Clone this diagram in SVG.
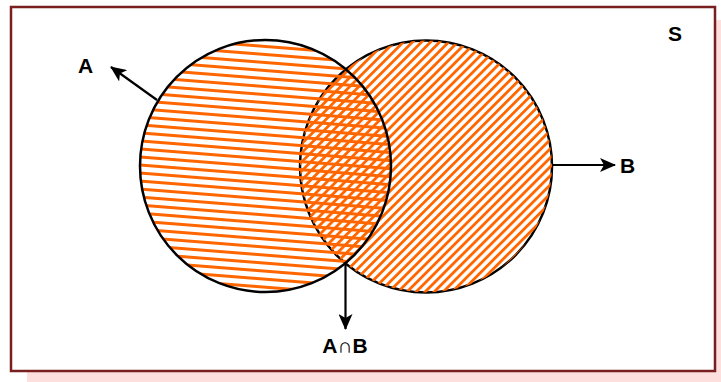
<svg xmlns="http://www.w3.org/2000/svg" width="721" height="382" viewBox="0 0 721 382">
<style>
.lbl{font-family:"Liberation Sans",Arial,sans-serif;font-weight:bold;font-size:21px;fill:#000}
.circ{stroke:#000;stroke-width:2.5}
.conn{stroke:#000;stroke-width:2.2;fill:none}
</style>
<defs>
<pattern id="hatchA" patternUnits="userSpaceOnUse" width="20" height="8" patternTransform="rotate(4.5)">
<rect x="0" y="0" width="20" height="3" fill="#ff6600"/>
</pattern>
<pattern id="hatchB" patternUnits="userSpaceOnUse" width="20" height="6.4" patternTransform="rotate(-45)">
<rect x="0" y="0" width="20" height="2.8" fill="#ff6600"/>
</pattern>
<marker id="arr" viewBox="0 0 16 14" refX="15" refY="7" markerWidth="16" markerHeight="14" markerUnits="userSpaceOnUse" orient="auto">
<path d="M0,0 L16,7 L0,14 L4,7 Z" fill="#000"/>
</marker>
</defs>
<rect x="27" y="20" width="700" height="370" fill="#fde0de"/>
<rect x="11" y="7" width="704" height="364" fill="#fff" stroke="#7a1f1f" stroke-width="2.5"/>
<g id="nodeB">
<circle cx="426" cy="166.5" r="126" fill="#fff" class="circ"/>
<circle cx="426" cy="166.5" r="126" fill="url(#hatchB)"/>
</g>
<g id="nodeA">
<ellipse cx="265.5" cy="166" rx="125.5" ry="126" fill="url(#hatchA)"/>
<ellipse cx="265.5" cy="166" rx="125.5" ry="126" fill="none" class="circ"/>
</g>
<g id="connectors">
<line x1="157" y1="100" x2="111" y2="67" class="conn" marker-end="url(#arr)"/>
<line x1="552" y1="165" x2="615" y2="165" class="conn" marker-end="url(#arr)"/>
<line x1="345.5" y1="262" x2="345.5" y2="329" class="conn" marker-end="url(#arr)"/>
</g>
<g id="labels">
<text x="78" y="73" class="lbl">A</text>
<text x="620" y="173" class="lbl">B</text>
<text x="345" y="353" class="lbl" text-anchor="middle">A∩B</text>
<text x="668" y="41" class="lbl" font-size="20">S</text>
</g>
</svg>
